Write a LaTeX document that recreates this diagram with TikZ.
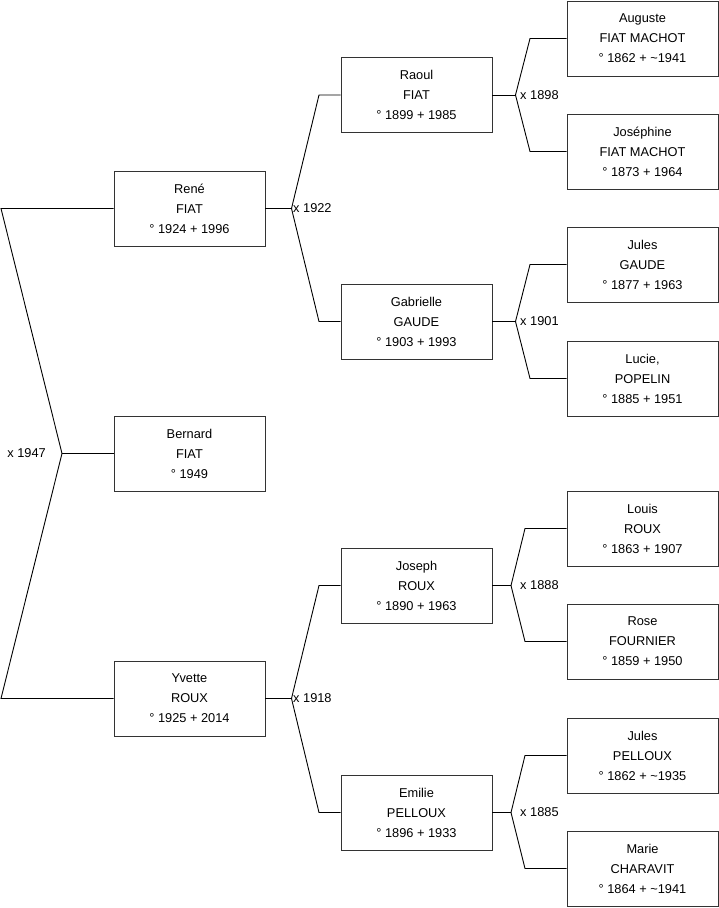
\documentclass[tikz,border=0pt]{standalone}
\usepackage{fontspec}
\setmainfont{Liberation Sans}
\usepackage{tikz}
\usetikzlibrary{positioning,calc}

\tikzset{
  person/.style={draw=black!80, line width=0.9pt, minimum width=151pt, minimum height=75pt,
    inner sep=0pt, align=center, font=\fontsize{12.8}{20}\selectfont},
  link/.style={line width=0.9pt},
  wed/.style={inner sep=0pt, font=\fontsize{12.8}{14}\selectfont}
}

\begin{document}
\begin{tikzpicture}[x=1pt, y=-1pt]
    \useasboundingbox (0,0) rectangle (719,908);

    % Generation 1
    \node[person] (rene)    at (189.5,208.5) {René\\FIAT\\° 1924 + 1996};
    \node[person] (bernard) at (189.5,453.5) {Bernard\\FIAT\\° 1949};
    \node[person] (yvette)  at (189.5,698.5) {Yvette\\ROUX\\° 1925 + 2014};

    % Generation 2
    \node[person] (raoul)     at (416.5,95)    {Raoul\\FIAT\\° 1899 + 1985};
    \node[person] (gabrielle) at (416.5,321.5) {Gabrielle\\GAUDE\\° 1903 + 1993};
    \node[person] (joseph)    at (416.5,585.5) {Joseph\\ROUX\\° 1890 + 1963};
    \node[person] (emilie)    at (416.5,812.5) {Emilie\\PELLOUX\\° 1896 + 1933};

    % Generation 3
    \node[person] (auguste)   at (642.5,38.5)  {Auguste\\FIAT MACHOT\\° 1862 + \textasciitilde1941};
    \node[person] (josephine) at (642.5,151.5) {Joséphine\\FIAT MACHOT\\° 1873 + 1964};
    \node[person] (julesg)    at (642.5,264.5) {Jules\\GAUDE\\° 1877 + 1963};
    \node[person] (lucie)     at (642.5,378.5) {Lucie,\\POPELIN\\° 1885 + 1951};
    \node[person] (louis)     at (642.5,528.5) {Louis\\ROUX\\° 1863 + 1907};
    \node[person] (rose)      at (642.5,641.5) {Rose\\FOURNIER\\° 1859 + 1950};
    \node[person] (julesp)    at (642.5,755.5) {Jules\\PELLOUX\\° 1862 + \textasciitilde1935};
    \node[person] (marie)     at (642.5,868.5) {Marie\\CHARAVIT\\° 1864 + \textasciitilde1941};

    % Marriage junctions
    \coordinate (j0)  at (62,453.5);
    \coordinate (j0a) at (1,208.5);
    \coordinate (j0b) at (1,698.5);
    \coordinate (j1)  at (291.5,208.5);
    \coordinate (j2)  at (291.5,698.5);
    \coordinate (j11) at (515.5,95);
    \coordinate (j12) at (515.5,321.5);
    \coordinate (j21) at (511,585.5);
    \coordinate (j22) at (511,812.5);

    % Links
    \draw[link] (rene.west) -- (j0a) -- (j0) -- (j0b) -- (yvette.west);
    \draw[link] (j0) -- (bernard.west);

    \draw[link] (rene.east) -- (j1);
    \draw[link] (raoul.west) -- (319,95) -- (j1) -- (319,321.5) -- (gabrielle.west);
    \draw[link] (yvette.east) -- (j2);
    \draw[link] (joseph.west) -- (319,585.5) -- (j2) -- (319,812.5) -- (emilie.west);

    \draw[link] (raoul.east) -- (j11);
    \draw[link] (auguste.west) -- (530,38.5) -- (j11) -- (530,151.5) -- (josephine.west);
    \draw[link] (gabrielle.east) -- (j12);
    \draw[link] (julesg.west) -- (530,264.5) -- (j12) -- (530,378.5) -- (lucie.west);
    \draw[link] (joseph.east) -- (j21);
    \draw[link] (louis.west) -- (525,528.5) -- (j21) -- (525,641.5) -- (rose.west);
    \draw[link] (emilie.east) -- (j22);
    \draw[link] (julesp.west) -- (525,755.5) -- (j22) -- (525,868.5) -- (marie.west);

    % Marriage years
    \node[wed, left=16pt of j0]    (w0)  {x 1947};
    \node[wed, right=1.5pt of j1]  (w1)  {x 1922};
    \node[wed, right=1.5pt of j2]  (w2)  {x 1918};
    \node[wed, right=4.5pt of j11] (w11) {x 1898};
    \node[wed, right=4.5pt of j12] (w12) {x 1901};
    \node[wed, right=9pt of j21]   (w21) {x 1888};
    \node[wed, right=9pt of j22]   (w22) {x 1885};
\end{tikzpicture}
\end{document}
